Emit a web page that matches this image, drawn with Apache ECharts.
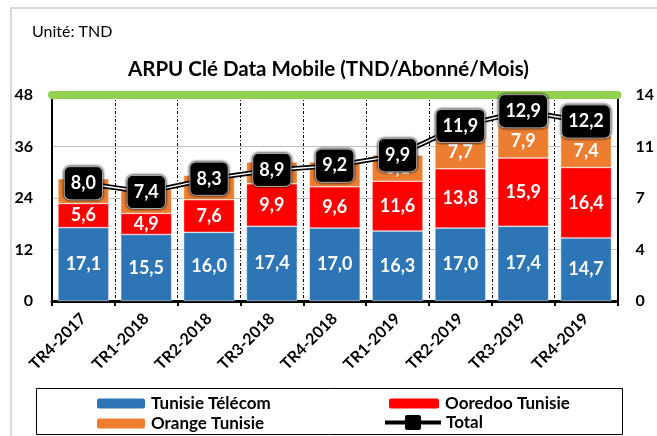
<!DOCTYPE html>
<html>
<head>
<meta charset="utf-8">
<script src="https://cdn.jsdelivr.net/npm/echarts@6/dist/echarts.min.js"></script>
<style>
  html, body { margin: 0; padding: 0; background: #fff; }
</style>
</head>
<body>
<div id="chart" style="width: 657px; height: 436px;"></div>
<script>
// trimestres
var categories = ['TR4-2017', 'TR1-2018', 'TR2-2018', 'TR3-2018', 'TR4-2018', 'TR1-2019', 'TR2-2019', 'TR3-2019', 'TR4-2019']
var tunisieTelecom = [17.1, 15.5, 16.0, 17.4, 17.0, 16.3, 17.0, 17.4, 14.7]
var ooredoo = [5.6, 4.9, 7.6, 9.9, 9.6, 11.6, 13.8, 15.9, 16.4]
var orange = [5.8, 5.6, 5.7, 5.1, 5.8, 6.1, 7.7, 7.9, 7.4]
var total = [8.0, 7.4, 8.3, 8.9, 9.2, 9.9, 11.9, 12.9, 12.2]
var leftTicks = [0, 12, 24, 36, 48]
var rightTicks = [0, 3.5, 7, 10.5, 14]

var FONT = 'Lato'
var fmt = function (p) {
  return p.value.toFixed(1).replace('.', ',')
}

var myChart = echarts.init(document.getElementById('chart'))

var barLabel = {
  show: true,
  position: 'inside',
  color: '#fff',
  fontFamily: FONT,
  fontWeight: 'bold',
  fontSize: 18,
  formatter: fmt
}

// une légende par entrée, placée à la main
function legendItem(name, left, top, w, h, icon) {
  var l = {
    data: [name],
    left: left,
    top: top,
    padding: 0,
    itemWidth: w,
    itemHeight: h,
    textStyle: { fontFamily: FONT, fontSize: 17, fontWeight: 'bold', color: '#000' }
  }
  if (icon) l.icon = icon
  return l
}

// trait + carré arrondi pour le Total
var totalIcon = 'path://M0,5.5 L20,5.5 L20,2 Q20,0 22,0 L34,0 Q36,0 36,2 L36,5.5 L56,5.5 L56,9.5 L36,9.5 L36,13 Q36,15 34,15 L22,15 Q20,15 20,13 L20,9.5 L0,9.5 Z'

var option = {
  animation: false,
  textStyle: { fontFamily: FONT },
  title: [
    {
      text: 'Unité: TND',
      left: 32,
      top: 24,
      padding: 0,
      textStyle: { fontFamily: FONT, fontSize: 16, fontWeight: 'normal', color: '#000' }
    },
    {
      text: 'ARPU Clé Data Mobile (TND/Abonné/Mois)',
      left: 'center',
      top: 59,
      padding: 0,
      textStyle: { fontFamily: FONT, fontSize: 20.5, fontWeight: 'bold', color: '#000' }
    }
  ],
  graphic: [
    {
      type: 'rect',
      shape: { x: 11, y: 8, width: 660, height: 440 },
      style: { fill: 'none', stroke: '#D9D9D9', lineWidth: 2 },
      silent: true
    },
    {
      type: 'rect',
      shape: { x: 36.5, y: 388.5, width: 586, height: 46 },
      style: { fill: 'none', stroke: '#000', lineWidth: 1 },
      silent: true
    }
  ],
  legend: [
    legendItem('Tunisie Télécom', 95, 395, 50, 12),
    legendItem('Orange Tunisie', 95, 415, 50, 12),
    legendItem('Ooredoo Tunisie', 387, 395, 52, 12),
    legendItem('Total', 385, 414, 56, 15, totalIcon)
  ],
  grid: {
    left: 52,
    right: 37,
    top: 95,
    bottom: 135,
    containLabel: false
  },
  xAxis: [
    {
      type: 'category',
      data: categories,
      boundaryGap: true,
      axisLine: { show: true, lineStyle: { color: '#000', width: 3 } },
      axisTick: { show: true, length: 5, lineStyle: { color: '#000', width: 2 } },
      axisLabel: {
        interval: 0,
        rotate: 45,
        margin: 15,
        color: '#000',
        fontFamily: FONT,
        fontWeight: 'bold',
        fontSize: 16
      },
      splitLine: {
        show: true,
        interval: 0,
        lineStyle: { color: '#000', width: 1, type: [3, 2, 1, 2] }
      }
    },
    {
      // bande verte en haut
      type: 'category',
      data: categories,
      position: 'top',
      axisLine: { show: true, onZero: false, lineStyle: { color: '#92D050', width: 8 } },
      axisTick: { show: false },
      axisLabel: { show: false },
      splitLine: { show: false }
    }
  ],
  yAxis: [
    {
      type: 'value',
      min: leftTicks[0],
      max: leftTicks[leftTicks.length - 1],
      interval: leftTicks[1] - leftTicks[0],
      axisLine: { show: true, lineStyle: { color: '#000', width: 2 } },
      axisTick: { show: false },
      axisLabel: {
        margin: 19,
        color: '#000',
        fontFamily: FONT,
        fontWeight: 'bold',
        fontSize: 16
      },
      splitLine: { show: true, lineStyle: { color: '#BFBFBF', width: 1 } }
    },
    {
      type: 'value',
      min: rightTicks[0],
      max: rightTicks[rightTicks.length - 1],
      interval: rightTicks[1] - rightTicks[0],
      axisLine: { show: true, lineStyle: { color: '#000', width: 2 } },
      axisTick: { show: false },
      axisLabel: {
        margin: 18,
        color: '#000',
        fontFamily: FONT,
        fontWeight: 'bold',
        fontSize: 16,
        formatter: function (v) { return Math.round(v) }
      },
      splitLine: { show: false }
    }
  ],
  series: [
    {
      name: 'Tunisie Télécom',
      type: 'bar',
      stack: 'arpu',
      barCategoryGap: '19%',
      itemStyle: { color: '#2E75B6', borderColor: '#fff', borderWidth: 0.5 },
      label: barLabel,
      data: tunisieTelecom
    },
    {
      name: 'Ooredoo Tunisie',
      type: 'bar',
      stack: 'arpu',
      itemStyle: { color: '#FF0000', borderColor: '#fff', borderWidth: 0.5 },
      label: barLabel,
      data: ooredoo
    },
    {
      name: 'Orange Tunisie',
      type: 'bar',
      stack: 'arpu',
      itemStyle: { color: '#ED7D31', borderColor: '#fff', borderWidth: 0.5 },
      label: barLabel,
      data: orange
    },
    {
      name: 'Total',
      type: 'line',
      yAxisIndex: 1,
      z: 5,
      symbol: 'roundRect',
      symbolSize: 14,
      itemStyle: { color: '#000' },
      lineStyle: { color: '#000', width: 5 },
      data: total
    },
    {
      // trait blanc au centre de la ligne Total, porte les étiquettes
      name: 'Total_inner',
      type: 'line',
      yAxisIndex: 1,
      z: 6,
      symbol: 'circle',
      symbolSize: 2,
      showSymbol: true,
      itemStyle: { color: '#000' },
      lineStyle: { color: '#fff', width: 1.5 },
      label: {
        show: true,
        position: 'inside',
        color: '#fff',
        fontFamily: FONT,
        fontWeight: 'bold',
        fontSize: 18,
        lineHeight: 20,
        backgroundColor: '#000',
        borderColor: '#fff',
        borderWidth: 1,
        borderRadius: 5,
        padding: [7, 6, 5, 6],
        shadowColor: '#000',
        shadowBlur: 3,
        formatter: fmt
      },
      data: total
    }
  ]
}

option && myChart.setOption(option)
</script>
</body>
</html>
